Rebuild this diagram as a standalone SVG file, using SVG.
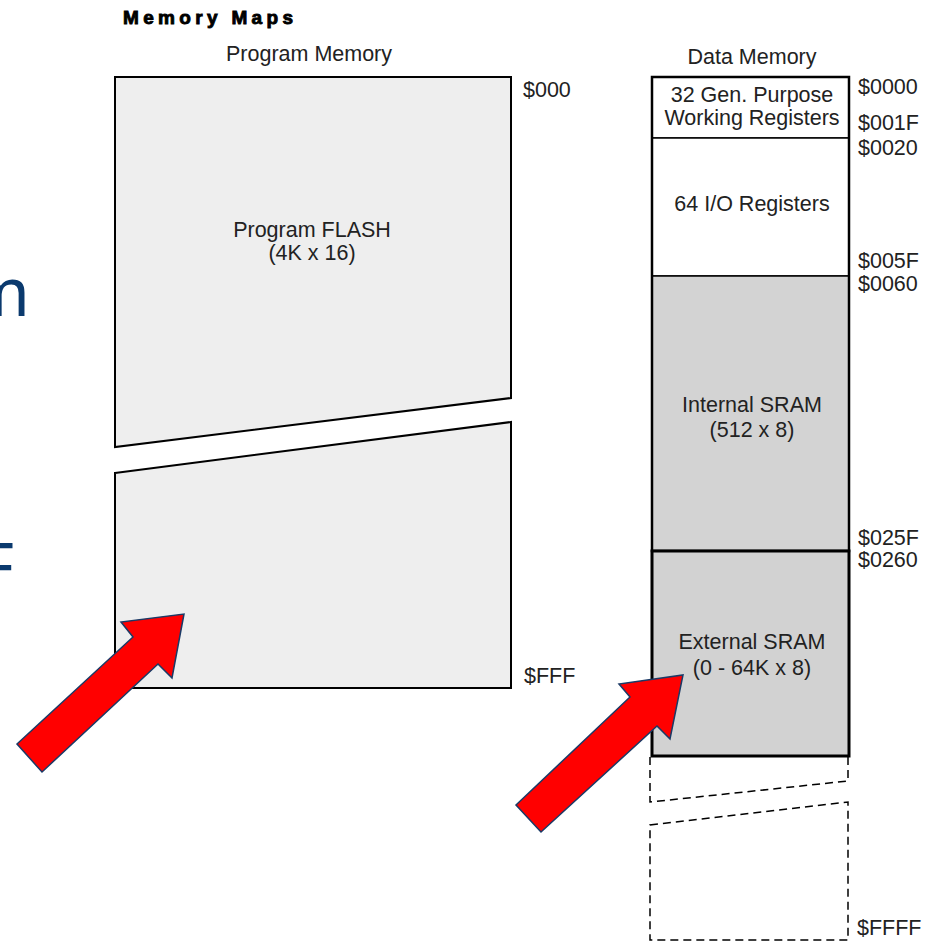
<svg xmlns="http://www.w3.org/2000/svg" width="935" height="944" viewBox="0 0 935 944">
<style>
.lbl{font-family:"Liberation Sans",Arial,sans-serif;font-size:21.5px;fill:#222}
.mid{text-anchor:middle}
.box{stroke:#000;stroke-width:2}
.dash{fill:none;stroke:#000;stroke-width:1.5;stroke-dasharray:8 5}
.arrow{fill:#ff0000;stroke:#1a3a66;stroke-width:1.5;stroke-linejoin:miter}
.slide{font-family:"Noto Sans","Open Sans",sans-serif;font-size:67px;fill:#0b3a6e}
</style>
<rect width="935" height="944" fill="#fff"/>
<text class="slide" x="30" y="316" text-anchor="end">m</text>
<text class="slide" x="14" y="591" text-anchor="end">F</text>
<text x="123" y="24" font-family="Liberation Sans,Arial,sans-serif" font-weight="bold" font-size="19" stroke="#000" stroke-width="0.9" textLength="170" lengthAdjust="spacing" fill="#000">Memory Maps</text>
<g id="program-memory">
<text class="lbl mid" x="309" y="61">Program Memory</text>
<polygon class="box" fill="#eeeeee" points="115,77 511,77 511,398 115,447"/>
<polygon class="box" fill="#eeeeee" points="115,473 511,422 511,688 115,688"/>
<text class="lbl mid" x="312" y="237">Program FLASH</text>
<text class="lbl mid" x="312" y="260">(4K x 16)</text>
<text class="lbl" x="523" y="97">$000</text>
<text class="lbl" x="524" y="683">$FFF</text>
</g>
<g id="data-memory">
<text class="lbl mid" x="752" y="64">Data Memory</text>
<rect x="652" y="77" width="197" height="61" fill="#fff" stroke="#000" stroke-width="1.5"/>
<rect x="652" y="138" width="197" height="138" fill="#fff" stroke="#000" stroke-width="1.5"/>
<rect x="652" y="276" width="197" height="275" fill="#d3d3d3" stroke="#000" stroke-width="1.5"/>
<rect x="652" y="77" width="197" height="474" fill="none" stroke="#000" stroke-width="2.5"/>
<rect x="652" y="551" width="197" height="205" fill="#d2d2d2" stroke="#000" stroke-width="3"/>
<text class="lbl mid" x="752" y="102">32 Gen. Purpose</text>
<text class="lbl mid" x="752" y="125">Working Registers</text>
<text class="lbl mid" x="752" y="211">64 I/O Registers</text>
<text class="lbl mid" x="752" y="412">Internal SRAM</text>
<text class="lbl mid" x="752" y="437">(512 x 8)</text>
<text class="lbl mid" x="752" y="649">External SRAM</text>
<text class="lbl mid" x="752" y="675">(0 - 64K x 8)</text>
<path class="dash" d="M650,757 L650,802 L848,781 L848,757"/>
<path class="dash" d="M650,825 L848,802 L848,940 L650,940 Z"/>
<text class="lbl" x="858" y="94">$0000</text>
<text class="lbl" x="858" y="130">$001F</text>
<text class="lbl" x="858" y="155">$0020</text>
<text class="lbl" x="858" y="268">$005F</text>
<text class="lbl" x="858" y="291">$0060</text>
<text class="lbl" x="858" y="545">$025F</text>
<text class="lbl" x="858" y="567">$0260</text>
<text class="lbl" x="857" y="935">$FFFF</text>
</g>
<g id="connectors">
<polygon class="arrow" points="17,744 133,637 121,622 184,614 172,678 158,664 42,772"/>
<polygon class="arrow" points="516,805 630,697 619,684 683,675 670,739 657,726 541,832"/>
</g>
</svg>
